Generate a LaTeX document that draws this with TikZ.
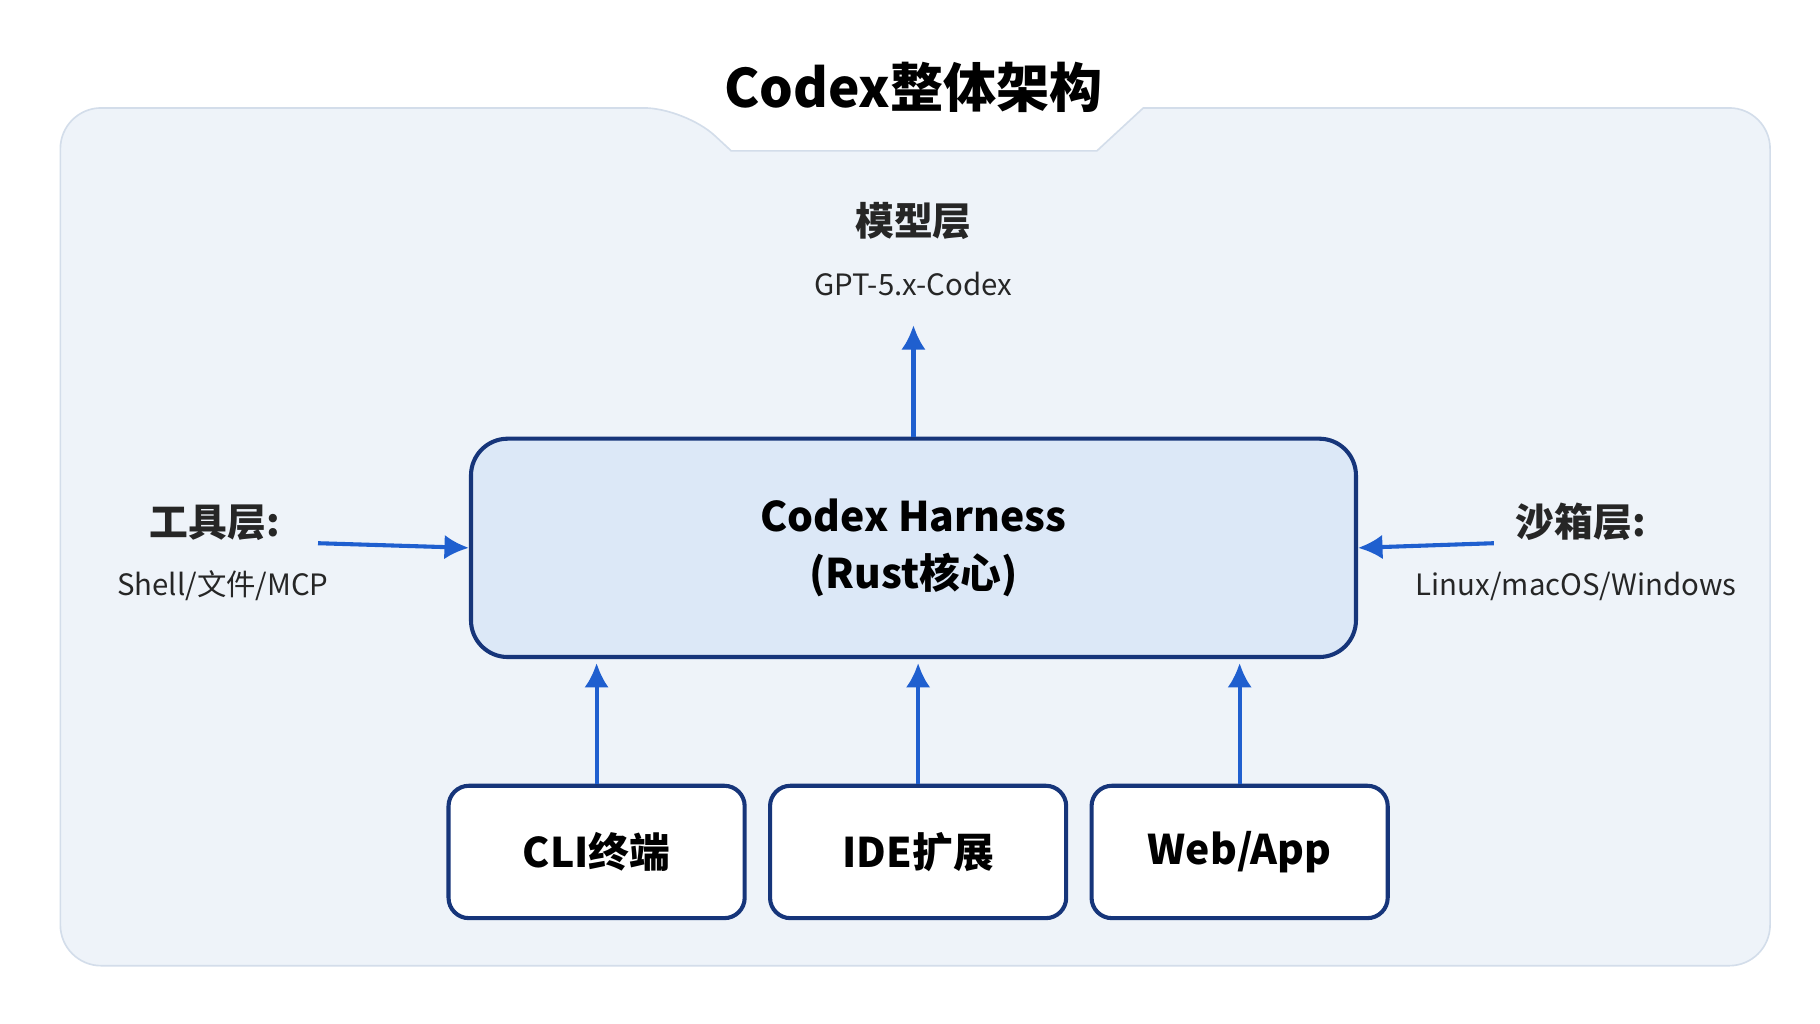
\documentclass[tikz,border=0pt]{standalone}
\usepackage{fontspec}
\setmainfont{Noto Sans CJK SC}
\usepackage{tikz}
\usetikzlibrary{arrows.meta}
\definecolor{color_panel}{HTML}{EEF3F9}
\definecolor{color_edge}{HTML}{D3DDEA}
\definecolor{color_core}{HTML}{DCE8F7}
\definecolor{color_navy}{HTML}{16357A}
\definecolor{color_arrow}{HTML}{1F5FCF}

\begin{document}
\begin{tikzpicture}[x=0.01cm, y=-0.01cm, align=center]
  \tikzset{ % Specifications for style of nodes:
      head/.style = {font=\bfseries\fontsize{9.5}{11}\selectfont, text=black!85},
      note/.style = {font=\fontsize{7.2}{9}\selectfont, text=black!85},
      base/.style = {rectangle, rounded corners=5pt, draw=color_navy, line width=1pt, fill=white, text centered, font=\bfseries\fontsize{10}{12}\selectfont},
      entry/.style = {base, minimum width=2.55cm, minimum height=1.14cm},
      core/.style = {base, rounded corners=9pt, fill=color_core, minimum width=7.62cm, minimum height=1.88cm},
      link/.style = {-{Latex[length=6pt,width=6pt]}, draw=color_arrow, line width=1pt},
  }
  \useasboundingbox (0,0) rectangle (1568,882);
  \fill[white] (0,0) rectangle (1568,882);
  \draw[color_edge, fill=color_panel, rounded corners=10pt]
    (52,832) -- (52,93) -- (590,93) [sharp corners] -- (630,130) -- (945,130) -- (985,93)
    [rounded corners=10pt] -- (1525,93) -- (1525,832) -- cycle;

  \node (title) [font=\bfseries\fontsize{13}{15}\selectfont] at (787,75) {Codex整体架构};

  \node (model) [head] at (787,190) {模型层};
  \node (gpt) [note] at (787,245) {GPT-5.x-Codex};

  \node (harness) [core] at (787,472) {Codex Harness\\[2pt](Rust核心)};

  \node (tool) [head] at (185,450) {工具层:};
  \node (toolnote) [note] at (192,505) {Shell/文件/MCP};
  \node (sandbox) [head] at (1362,450) {沙箱层:};
  \node (sandnote) [note] at (1358,505) {Linux/macOS/Windows};
  \coordinate (toolend) at (274,468);
  \coordinate (sandend) at (1287,468);

  \node (cli) [entry] at (514,734) {CLI终端};
  \node (ide) [entry] at (791,734) {IDE扩展};
  \node (web) [entry] at (1068,734) {Web/App};

  \draw[link] (harness.north) -- ++(0,-96);
  \draw[link] (toolend) -- (harness.west);
  \draw[link] (sandend) -- (harness.east);
  \draw[link] (cli.north) -- ++(0,-104);
  \draw[link] (ide.north) -- ++(0,-104);
  \draw[link] (web.north) -- ++(0,-104);
\end{tikzpicture}
\end{document}
